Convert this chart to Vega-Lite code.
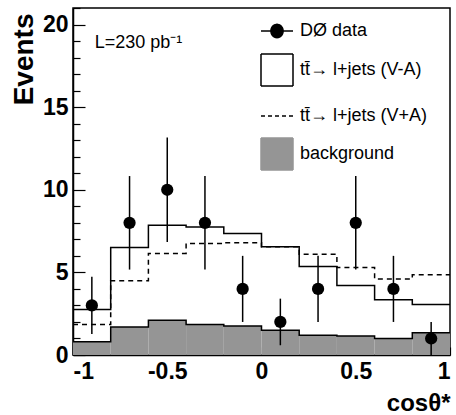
{
  "$schema": "https://vega.github.io/schema/vega-lite/v6.json",
  "width": 377,
  "height": 347,
  "autosize": "none",
  "padding": {"left": 73, "top": 8, "right": 6, "bottom": 60},
  "background": "white",
  "config": {
    "view": {"stroke": "black", "strokeWidth": 1.5},
    "font": "Liberation Sans",
    "axis": {"domainColor": "black", "domainWidth": 1.5, "tickColor": "black", "tickWidth": 1.2, "grid": false,
      "labelFont": "Liberation Sans", "labelFontWeight": "bold", "labelFontSize": 23, "labelColor": "black",
      "titleFont": "Liberation Sans", "titleFontWeight": "bold", "titleColor": "black"}
  },
  "resolve": {"axis": {"y": "independent"}},
  "datasets": {
    "bins": [
      {"bin": 1, "x0": -1.0, "x1": -0.8, "va": 2.75, "vpa": 1.85, "bg": 0.8},
      {"bin": 2, "x0": -0.8, "x1": -0.6, "va": 6.5, "vpa": 4.5, "bg": 1.7},
      {"bin": 3, "x0": -0.6, "x1": -0.4, "va": 7.85, "vpa": 6.15, "bg": 2.1},
      {"bin": 4, "x0": -0.4, "x1": -0.2, "va": 7.75, "vpa": 6.75, "bg": 1.85},
      {"bin": 5, "x0": -0.2, "x1": 0.0, "va": 7.35, "vpa": 6.8, "bg": 1.75},
      {"bin": 6, "x0": 0.0, "x1": 0.2, "va": 6.55, "vpa": 6.55, "bg": 1.5},
      {"bin": 7, "x0": 0.2, "x1": 0.4, "va": 5.35, "vpa": 6.1, "bg": 1.2},
      {"bin": 8, "x0": 0.4, "x1": 0.6, "va": 4.2, "vpa": 5.3, "bg": 1.15},
      {"bin": 9, "x0": 0.6, "x1": 0.8, "va": 3.35, "vpa": 4.6, "bg": 1.0},
      {"bin": 10, "x0": 0.8, "x1": 1.0, "va": 3.05, "vpa": 4.85, "bg": 1.35}
    ],
    "points": [
      {"x": -0.9, "n": 3, "lo": 1.27, "hi": 4.73},
      {"x": -0.7, "n": 8, "lo": 5.17, "hi": 10.83},
      {"x": -0.5, "n": 10, "lo": 6.84, "hi": 13.16},
      {"x": -0.3, "n": 8, "lo": 5.17, "hi": 10.83},
      {"x": -0.1, "n": 4, "lo": 2.0, "hi": 6.0},
      {"x": 0.1, "n": 2, "lo": 0.59, "hi": 3.41},
      {"x": 0.3, "n": 4, "lo": 2.0, "hi": 6.0},
      {"x": 0.5, "n": 8, "lo": 5.17, "hi": 10.83},
      {"x": 0.7, "n": 4, "lo": 2.0, "hi": 6.0},
      {"x": 0.9, "n": 1, "lo": 0.0, "hi": 2.0}
    ]
  },
  "layer": [
    {
      "data": {"name": "bins"},
      "mark": {"type": "rect", "strokeWidth": 0},
      "encoding": {
        "x": {"field": "x0", "type": "quantitative", "scale": {"domain": [-1, 1], "nice": false},
          "axis": {"values": [-1, -0.5, 0, 0.5, 1], "format": "~g", "labelExpr": "replace(datum.label, '−', '-')",
            "tickSize": -8, "labelPadding": 13, "labelOverlap": false, "title": "cosθ*", "titleFontSize": 24,
            "titleAnchor": "end", "titleAlign": "right", "titleBaseline": "alphabetic", "titleX": 377, "titleY": 55}},
        "x2": {"field": "x1"},
        "y": {"field": "bg", "type": "quantitative", "scale": {"domain": [0, 21], "nice": false},
          "axis": {"orient": "left", "values": [0, 5, 10, 15, 20], "labelOverlap": false,
            "tickSize": -12, "labelPadding": 17, "title": "Events", "titleFontSize": 28,
            "titleAngle": -90, "titleAnchor": "end", "titleAlign": "right", "titleBaseline": "alphabetic", "titleX": -41, "titleY": 5}},
        "y2": {"datum": 0},
        "color": {"datum": "background", "type": "nominal",
          "scale": {"domain": ["DØ data", "tt̄→ l+jets (V-A)", "tt̄→ l+jets (V+A)", "background"], "range": ["black", "black", "black", "#959595"]},
          "legend": {"orient": "none", "legendX": 187, "legendY": 6, "title": null, "padding": 0,
            "labelFont": "Liberation Sans", "labelFontSize": 18, "labelColor": "black", "labelOffset": 6, "rowPadding": 10,
            "symbolSize": 1024, "labelLimit": 300,
            "encode": {"symbols": {"update": {
              "shape": [{"test": "datum.label === 'DØ data'", "value": "M-1,0H-0.38M0.38,0H1M0.38,0A0.38,0.42 0 1,1 -0.38,0A0.38,0.42 0 1,1 0.38,0Z"},
                        {"test": "datum.label === 'tt̄→ l+jets (V+A)'", "value": "M-1,0H1"},
                        {"value": "square"}],
              "fillOpacity": [{"test": "datum.label === 'tt̄→ l+jets (V-A)'", "value": 0}, {"value": 1}],
              "stroke": {"value": "black"},
              "strokeWidth": {"value": 1.5},
              "strokeDash": [{"test": "datum.label === 'tt̄→ l+jets (V+A)'", "value": [4, 3]}, {"value": [1, 0]}],
              "size": {"value": 1024},
              "opacity": {"value": 1}
            }}}}}
      }
    },
    {
      "data": {"name": "bins"},
      "transform": [{"fold": ["x0", "x1"], "as": ["edge", "x"]}],
      "mark": {"type": "line", "color": "black", "strokeWidth": 1.5},
      "encoding": {
        "x": {"field": "x", "type": "quantitative"},
        "y": {"field": "bg", "type": "quantitative",
          "axis": {"orient": "left", "values": [1,2,3,4,6,7,8,9,11,12,13,14,16,17,18,19,21], "labels": false, "domain": false,
            "tickSize": -7, "title": null, "grid": false}},
        "order": {"value": null}
      }
    },
    {
      "data": {"name": "bins"},
      "transform": [{"fold": ["x0", "x1"], "as": ["edge", "x"]}],
      "mark": {"type": "line", "strokeWidth": 1.5},
      "encoding": {
        "x": {"field": "x", "type": "quantitative"},
        "y": {"field": "va", "type": "quantitative", "axis": null},
        "order": {"value": null},
        "color": {"datum": "tt̄→ l+jets (V-A)", "type": "nominal"}
      }
    },
    {
      "data": {"name": "bins"},
      "transform": [{"fold": ["x0", "x1"], "as": ["edge", "x"]}],
      "mark": {"type": "line", "strokeWidth": 1.5, "strokeDash": [5, 4]},
      "encoding": {
        "x": {"field": "x", "type": "quantitative"},
        "y": {"field": "vpa", "type": "quantitative", "axis": null},
        "order": {"value": null},
        "color": {"datum": "tt̄→ l+jets (V+A)", "type": "nominal"}
      }
    },
    {
      "data": {"name": "points"},
      "mark": {"type": "rule", "color": "black", "strokeWidth": 1.5},
      "encoding": {
        "x": {"field": "x", "type": "quantitative"},
        "y": {"field": "lo", "type": "quantitative", "axis": null},
        "y2": {"field": "hi"}
      }
    },
    {
      "data": {"name": "points"},
      "mark": {"type": "point", "filled": true, "shape": "circle", "size": 150, "opacity": 1},
      "encoding": {
        "x": {"field": "x", "type": "quantitative"},
        "y": {"field": "n", "type": "quantitative", "axis": null},
        "color": {"datum": "DØ data", "type": "nominal"}
      }
    },
    {
      "data": {"values": [{"label": "L=230 pb⁻¹"}]},
      "mark": {"type": "text", "align": "left", "baseline": "middle", "fontSize": 18, "font": "Liberation Sans", "color": "black"},
      "encoding": {
        "x": {"datum": -0.885, "type": "quantitative"},
        "y": {"datum": 18.9, "type": "quantitative", "axis": null},
        "text": {"field": "label"}
      }
    }
  ]
}
